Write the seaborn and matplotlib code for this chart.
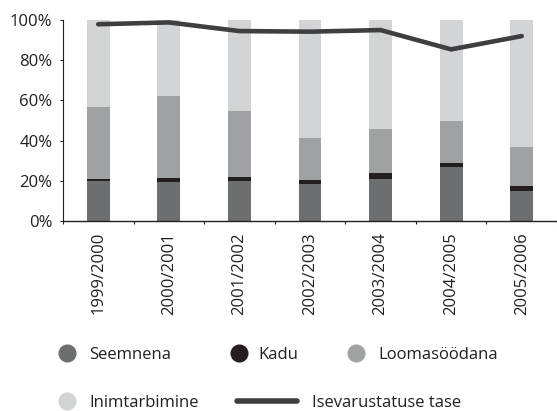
import matplotlib
matplotlib.use("Agg")
import matplotlib.pyplot as plt
import seaborn as sns
import numpy as np
from matplotlib.lines import Line2D

years = ["1999/2000", "2000/2001", "2001/2002", "2002/2003", "2003/2004", "2004/2005", "2005/2006"]
seemnena = [19.9, 19.4, 19.9, 18.6, 20.9, 26.9, 14.9]
kadu = [1.0, 2.0, 2.0, 1.8, 3.0, 2.0, 2.5]
loomasoodana = [35.8, 40.8, 32.8, 20.9, 21.9, 20.9, 19.4]
inimtarbimine = [43.3, 37.8, 45.3, 58.7, 54.2, 50.2, 63.2]
isevarustatus = [97.9, 98.8, 94.5, 94.2, 95.0, 85.4, 92.0]
yticks = [0, 20, 40, 60, 80, 100]
ytick_labels = ["0%", "20%", "40%", "60%", "80%", "100%"]

names = ["Seemnena", "Kadu", "Loomasöödana", "Inimtarbimine"]
colors = ["#6d6e70", "#231f20", "#a0a1a3", "#d3d4d6"]
line_name = "Isevarustatuse tase"
line_color = "#3f3f41"
text_color = "#231f20"
FS = 12

sns.set_theme(style="white")
plt.rcParams["font.family"] = ["Open Sans", "DejaVu Sans"]
plt.rcParams["font.size"] = FS

fig = plt.figure(figsize=(5.57, 4.11), dpi=100)
ax = fig.add_axes([0.113, 0.4623, 0.887, 0.489])

series = [seemnena, kadu, loomasoodana, inimtarbimine]
bottom = np.zeros(len(years))
for vals, col in zip(series, colors):
    sns.barplot(x=years, y=vals, bottom=bottom, color=col, width=0.325,
                ax=ax, saturation=1, linewidth=0, errorbar=None)
    bottom = bottom + np.array(vals)

sns.lineplot(x=np.arange(len(years)), y=isevarustatus, color=line_color,
             linewidth=3.3, ax=ax, sort=False)

ax.set_xlim(-0.5, len(years) - 0.5)
ax.set_ylim(0, 100)
ax.set_yticks(yticks)
ax.set_yticklabels(ytick_labels, color=text_color, fontsize=FS)
ax.set_xticks(range(len(years)))
ax.set_xticklabels(years, rotation=90, color=text_color, fontsize=FS)
ax.set_xticks(np.arange(len(years) + 1) - 0.5, minor=True)
ax.tick_params(axis="x", which="major", length=0, pad=8)
ax.tick_params(axis="x", which="minor", length=2.5, width=0.8, color=text_color, direction="out", bottom=True)
ax.tick_params(axis="y", which="major", length=2.5, width=0.8, color=text_color, direction="out", left=True, pad=5)
for s in ["top", "right"]:
    ax.spines[s].set_visible(False)
ax.spines["bottom"].set_color(text_color)
ax.spines["bottom"].set_linewidth(1.0)
ax.spines["left"].set_color(text_color)
ax.spines["left"].set_linewidth(0.8)
ax.set_xlabel("")
ax.set_ylabel("")

def add_item(handle, label, x, y, hl, tp):
    leg = fig.legend([handle], [label], loc="center left",
                     bbox_to_anchor=(x / 557, 1 - y / 411), frameon=False,
                     borderpad=0, borderaxespad=0, handlelength=hl,
                     handletextpad=tp, fontsize=FS, labelcolor=text_color)
    return leg

def circ(c):
    return Line2D([], [], marker="o", linestyle="none", markersize=12,
                  markerfacecolor=c, markeredgecolor=c)

add_item(circ(colors[0]), names[0], 56, 355, 1.3, 0.68)
add_item(circ(colors[1]), names[1], 228, 355, 1.3, 0.55)
add_item(circ(colors[2]), names[2], 345, 355, 1.3, 0.68)
add_item(circ(colors[3]), names[3], 56, 403, 1.3, 0.68)
add_item(Line2D([], [], color=line_color, linewidth=4), line_name, 237, 403, 3.6, 0.9)

fig.savefig("out.png", dpi=100)
